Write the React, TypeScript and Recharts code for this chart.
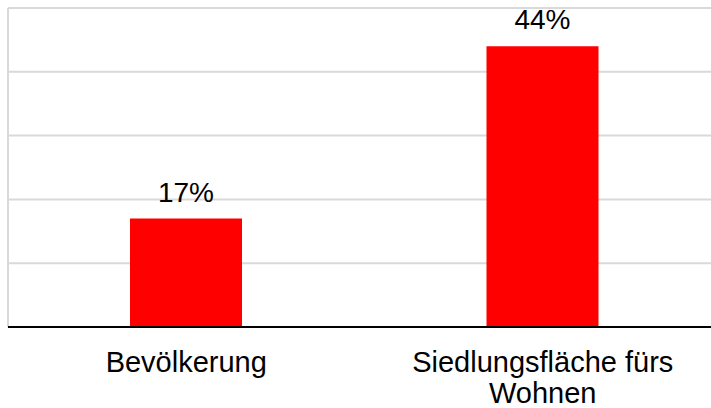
import { BarChart, Bar, XAxis, YAxis, CartesianGrid, LabelList } from 'recharts';

const categories = ['Bevölkerung', 'Siedlungsfläche fürs\nWohnen'];
const shares = [17, 44]; // Prozent
const yTicks = [0, 10, 20, 30, 40, 50];

const chartData = categories.map((name, i) => ({ name, value: shares[i] }));

const FONT = "'Liberation Sans', Arial, sans-serif";

// Kategorie-Beschriftung, mehrzeilig
const CategoryTick = (props: any) => {
    const { x, y, payload } = props;
    const lines = String(payload.value).split('\n');
    return (
        <text x={x} y={y} textAnchor="middle" fill="#000" fontSize={29} fontFamily={FONT}>
            {lines.map((l, i) => (
                <tspan key={i} x={x} dy={i === 0 ? 20 : 31}>{l}</tspan>
            ))}
        </text>
    );
};

// Y-Achse ohne sichtbare Beschriftung
const NoTick = () => <g />;

export default function App() {
    return (
        <div style={{ fontFamily: FONT }}>
            <style>{'body{margin:0;overflow:hidden}'}</style>
            <BarChart
                width={721}
                height={408}
                data={chartData}
                margin={{ top: 8, right: 0, left: 7, bottom: 0 }}
            >
                <CartesianGrid vertical={false} stroke="#d9d9d9" strokeWidth={2} />
                <YAxis
                    domain={[0, 50]}
                    ticks={yTicks}
                    width={1}
                    tick={<NoTick />}
                    tickLine={false}
                    axisLine={{ stroke: '#d9d9d9', strokeWidth: 2 }}
                />
                <XAxis
                    dataKey="name"
                    height={81}
                    tickSize={0}
                    tickMargin={25}
                    tickLine={false}
                    axisLine={{ stroke: '#000', strokeWidth: 2 }}
                    tick={<CategoryTick />}
                    interval={0}
                />
                <Bar dataKey="value" fill="#ff0000" barSize={112} isAnimationActive={false}>
                    <LabelList
                        dataKey="value"
                        position="top"
                        offset={17}
                        formatter={(v: any) => `${v}%`}
                        style={{ fontSize: 28, fontFamily: FONT, fill: '#000' }}
                    />
                </Bar>
            </BarChart>
        </div>
    );
}
